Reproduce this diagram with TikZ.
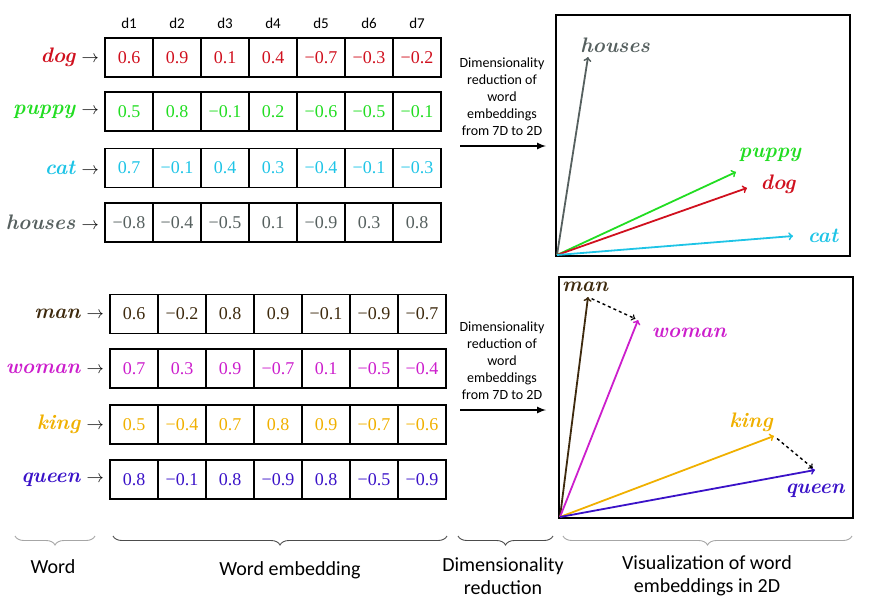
\documentclass[tikz,border=0pt]{standalone}
\usepackage{fontspec}
\usepackage{tikz}
\usetikzlibrary{arrows,positioning}
\usetikzlibrary{decorations.pathreplacing}
\newfontfamily\Cfont{Carlito}
\newfontfamily\Nfont{Liberation Serif}
\usepackage{xcolor}
\definecolor{dogred}{HTML}{D0101E}
\definecolor{pupgreen}{HTML}{22DD22}
\definecolor{catcyan}{HTML}{1EC4E6}
\definecolor{housegray}{HTML}{56605F}
\definecolor{manbrown}{HTML}{3E2A0E}
\definecolor{womanpink}{HTML}{CC1ECC}
\definecolor{kinggold}{HTML}{F0B000}
\definecolor{queenblue}{HTML}{3A12C8}
\newcommand{\Wterm}[2]{\textcolor{#1}{\bfseries\itshape #2}}
% name, colour, left edge, row centre, values
\newcommand{\Erow}[5]{%
  \foreach \v [count=\i] in {#5}
    \node (#1\i) [cell,text=#2] at ({#3+48*\i-24},#4) {\v};
  \node (#1w) [left=2pt of #11,font=\fontsize{21}{21}\selectfont]
    {\Wterm{#2}{#1} {\fontsize{17}{17}\selectfont$\rightarrow$}};
}
\tikzset{cell/.style={draw=black,line width=1.1pt,minimum width=48pt,minimum height=39pt,inner sep=0pt,font=\Nfont\fontsize{18}{18}\selectfont}}
\tikzset{vec/.style={->,line width=1.8pt}}
\tikzset{dvec/.style={->,dashed,line width=1.4pt,shorten <=4pt,shorten >=3pt}}
\tikzset{brace/.style={decorate,decoration={brace,mirror,amplitude=9pt},line width=0.9pt,draw=black!70}}
\tikzset{note/.style={align=center,font=\Cfont\fontsize{20}{23}\selectfont}}

\begin{document}
\begin{tikzpicture}[x=1pt,y=-1pt]
% \draw[help lines] (0,0) grid (884,600);
\useasboundingbox (0,0) rectangle (884,600);
%
\Erow{dog}{dogred}{105}{57.5}{0.6,0.9,0.1,0.4,−0.7,−0.3,−0.2}
\Erow{puppy}{pupgreen}{105}{111.5}{0.5,0.8,−0.1,0.2,−0.6,−0.5,−0.1}
\Erow{cat}{catcyan}{105}{168}{0.7,−0.1,0.4,0.3,−0.4,−0.1,−0.3}
\Erow{houses}{housegray}{105}{222.5}{−0.8,−0.4,−0.5,0.1,−0.9,0.3,0.8}
\foreach \i in {1,...,7}
  \node (d\i) [above=5pt of dog\i,font=\Cfont\fontsize{15}{15}\selectfont] {d\i};
%
\Erow{man}{manbrown}{110}{314}{0.6,−0.2,0.8,0.9,−0.1,−0.9,−0.7}
\Erow{woman}{womanpink}{110}{368.5}{0.7,0.3,0.9,−0.7,0.1,−0.5,−0.4}
\Erow{king}{kinggold}{110}{424.5}{0.5,−0.4,0.7,0.8,0.9,−0.7,−0.6}
\Erow{queen}{queenblue}{110}{479.5}{0.8,−0.1,0.8,−0.9,0.8,−0.5,−0.9}
%
\node (red1) [align=center,font=\Cfont\fontsize{14}{17}\selectfont] at (502,97)
  {Dimensionality\\reduction of\\word\\embeddings\\from 7D to 2D};
\node (red2) [align=center,font=\Cfont\fontsize{14}{17}\selectfont] at (502,361)
  {Dimensionality\\reduction of\\word\\embeddings\\from 7D to 2D};
\coordinate (a1) at (460,146);
\coordinate (b1) at (546,146);
\coordinate (a2) at (460,410);
\coordinate (b2) at (546,410);
\draw[-latex,line width=2pt] (a1) -- (b1);
\draw[-latex,line width=2pt] (a2) -- (b2);
%
\draw[line width=1.3pt] (556,15) rectangle (850,256);
\coordinate (o1) at (557,255);
\coordinate (houses) at (588,57);
\coordinate (puppy) at (736,172);
\coordinate (dog) at (747,188);
\coordinate (cat) at (793,236);
\draw[vec,housegray] (o1) -- (houses);
\draw[vec,pupgreen] (o1) -- (puppy);
\draw[vec,dogred] (o1) -- (dog);
\draw[vec,catcyan] (o1) -- (cat);
\node (housesl) at (615,45) [font=\fontsize{21}{21}\selectfont] {\Wterm{housegray}{houses}};
\node (puppyl) at (770,155) [font=\fontsize{21}{21}\selectfont] {\Wterm{pupgreen}{puppy}};
\node (dogl) at (778,184) [font=\fontsize{21}{21}\selectfont] {\Wterm{dogred}{dog}};
\node (catl) at (823,236) [font=\fontsize{21}{21}\selectfont] {\Wterm{catcyan}{cat}};
%
\draw[line width=1.3pt] (559,277) rectangle (853,518);
\coordinate (o2) at (560,517);
\coordinate (man) at (588,297);
\coordinate (woman) at (638,320);
\coordinate (king) at (774,436);
\coordinate (queen) at (815,470);
\draw[vec,manbrown] (o2) -- (man);
\draw[vec,womanpink] (o2) -- (woman);
\draw[vec,kinggold] (o2) -- (king);
\draw[vec,queenblue] (o2) -- (queen);
\draw[dvec] (man) -- (woman);
\draw[dvec] (king) -- (queen);
\node (manl) at (585,287) [font=\fontsize{21}{21}\selectfont] {\Wterm{manbrown}{man}};
\node (womanl) at (689,333) [font=\fontsize{21}{21}\selectfont] {\Wterm{womanpink}{woman}};
\node (kingl) at (751,422) [font=\fontsize{21}{21}\selectfont] {\Wterm{kinggold}{king}};
\node (queenl) at (815,491) [font=\fontsize{21}{21}\selectfont] {\Wterm{queenblue}{queen}};
%
\draw[brace,draw=black!35] (15,536) -- (95,536);
\draw[brace] (113,536) -- (447,536);
\draw[brace] (458,536) -- (553,536);
\draw[brace,draw=black!35] (563,536) -- (852,536);
\node (wordt) [note] at (53,567) {Word};
\node (embt) [note] at (290,570) {Word embedding};
\node (redt) [note] at (503,576) {Dimensionality\\reduction};
\node (vist) [note] at (707,576) {Visualization of word\\embeddings in 2D};
\end{tikzpicture}
\end{document}
